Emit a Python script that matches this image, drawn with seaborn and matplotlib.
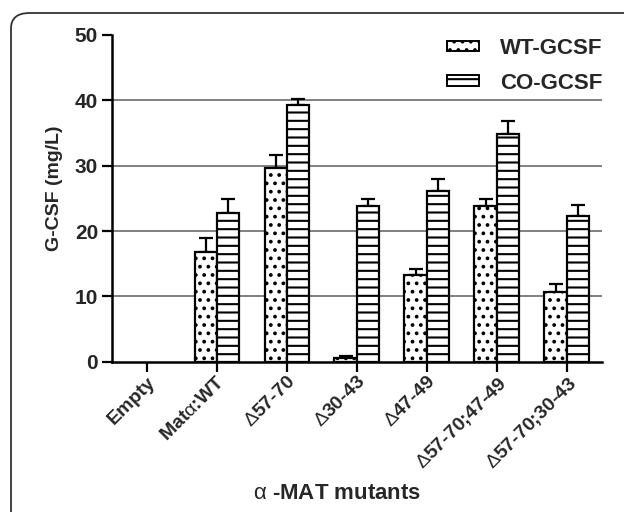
import matplotlib
matplotlib.use("Agg")
import matplotlib.pyplot as plt
import seaborn as sns
import pandas as pd
from matplotlib.patches import Patch, FancyBboxPatch

categories = ["Empty", "Matα:WT", "Δ57-70", "Δ30-43", "Δ47-49", "Δ57-70;47-49", "Δ57-70;30-43"]
tick_labels = ["Empty", "Mat$\\mathrm{\\alpha}$:WT", "$\\Delta$57-70", "$\\Delta$30-43",
               "$\\Delta$47-49", "$\\Delta$57-70;47-49", "$\\Delta$57-70;30-43"]
series = ["WT-GCSF", "CO-GCSF"]
wt_values = [0, 16.8, 29.7, 0.5, 13.3, 23.8, 10.6]
wt_errors = [0, 2.1, 2.0, 0.3, 0.9, 1.1, 1.3]
co_values = [0, 22.8, 39.3, 23.8, 26.1, 34.8, 22.3]
co_errors = [0, 2.1, 0.9, 1.1, 1.8, 2.1, 1.7]
y_ticks = [0, 10, 20, 30, 40, 50]
grid_values = [10, 20, 30, 40]

sns.set_theme(style="white")
plt.rcParams["font.family"] = ["Liberation Sans", "DejaVu Sans"]
plt.rcParams["mathtext.fontset"] = "custom"
plt.rcParams["mathtext.rm"] = "Liberation Sans"
plt.rcParams["mathtext.it"] = "Liberation Sans:italic"
plt.rcParams["hatch.linewidth"] = 1.5

df = pd.DataFrame({
    "mutant": categories * 2,
    "construct": [series[0]] * len(categories) + [series[1]] * len(categories),
    "value": wt_values + co_values,
})

fig = plt.figure(figsize=(6.24, 5.12), dpi=100)
ax = fig.add_axes([112 / 624, 1 - 361.7 / 512, (601.7 - 112) / 624, (361.7 - 35) / 512])

sns.barplot(data=df, x="mutant", y="value", hue="construct", order=categories,
            hue_order=series, palette=["white", "white"], edgecolor="black",
            linewidth=1.6, width=0.64, errorbar=None, ax=ax, zorder=2)

hatches = ["..", "--"]
errs = [wt_errors, co_errors]
for cont, h, e in zip(ax.containers, hatches, errs):
    xs, ys = [], []
    for bar in cont:
        bar.set_hatch(h)
        bar.set_edgecolor("black")
        if bar.get_height() <= 0:
            bar.set_linewidth(0)
        xs.append(bar.get_x() + bar.get_width() / 2)
        ys.append(bar.get_height())
    xs_e = [x for x, v in zip(xs, ys) if v > 0]
    ys_e = [v for v in ys if v > 0]
    ee = [err for err, v in zip(e, ys) if v > 0]
    ax.errorbar(xs_e, ys_e, yerr=[[0] * len(ee), ee], fmt="none", ecolor="black",
                elinewidth=1.6, capsize=5, capthick=1.6, zorder=1.5)

for g in grid_values:
    ax.axhline(g, color="#808080", linewidth=1.4, zorder=0.5)

ax.set_xlim(-0.5, 6.5)
ax.set_ylim(0, 50)
ax.set_yticks(y_ticks)
ax.set_yticklabels([str(t) for t in y_ticks], fontsize=15, fontweight="bold")
ax.set_xticks(range(len(categories)))
ax.set_xticklabels(tick_labels, rotation=45, ha="right", rotation_mode="anchor",
                   fontsize=14, fontweight="bold")
ax.tick_params(axis="both", direction="out", length=7, width=1.6, color="black",
               bottom=True, left=True)
ax.tick_params(axis="x", pad=1.5)
ax.tick_params(axis="y", pad=3)
for s in ["top", "right"]:
    ax.spines[s].set_visible(False)
for s in ["left", "bottom"]:
    ax.spines[s].set_linewidth(1.8)
    ax.spines[s].set_color("black")

ax.set_ylabel("G-CSF (mg/L)", fontsize=14, fontweight="bold")
ax.yaxis.set_label_coords(-0.10, 0.53)
ax.set_xlabel("$\\mathrm{\\alpha}$ -MAT mutants", fontsize=16, fontweight="bold")
ax.xaxis.set_label_coords(0.46, -0.37)

if ax.get_legend() is not None:
    ax.get_legend().remove()
handles = [Patch(facecolor="white", edgecolor="black", hatch=h, linewidth=1.4) for h in hatches]
leg = fig.legend(handles, series, loc="upper left", bbox_to_anchor=(427 / 624, 1 - 18 / 512),
                 frameon=False, prop={"weight": "bold", "size": 16},
                 handlelength=1.45, handleheight=0.36, labelspacing=0.62, handletextpad=0.95)

border = FancyBboxPatch((11 / 624, -0.1), 1.2, 1.1 - 13 / 512,
                        boxstyle="round,pad=0,rounding_size=0.03",
                        transform=fig.transFigure, fill=False, edgecolor="#333333",
                        linewidth=1.3, clip_on=False)
fig.patches.append(border)

fig.savefig("out.png", dpi=100)
